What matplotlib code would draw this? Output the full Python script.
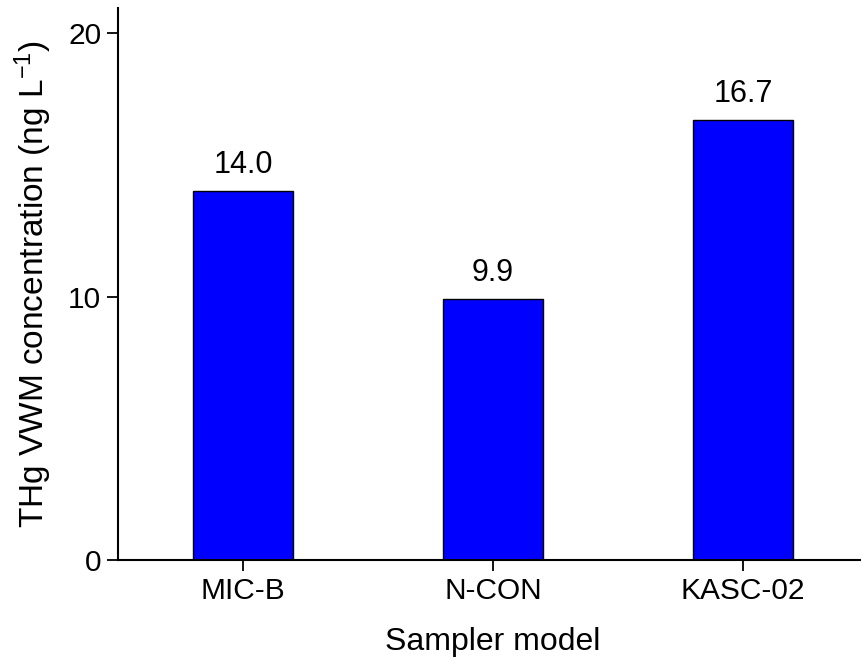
import numpy as np
import matplotlib
matplotlib.use("Agg")
import matplotlib.pyplot as plt

plt.rcParams['font.family'] = ['Liberation Sans', 'DejaVu Sans']
plt.rcParams['mathtext.fontset'] = 'custom'
plt.rcParams['mathtext.rm'] = 'Liberation Sans'
plt.rcParams['mathtext.it'] = 'Liberation Sans:italic'

samplers = ['MIC-B', 'N-CON', 'KASC-02']
thg_vwm = [14.0, 9.9, 16.7]
yticks = [0, 10, 20]

fig = plt.figure(figsize=(8.61, 6.59), dpi=100)
# axes run past the right edge of the figure, like the original
ax = fig.add_axes([118/861, 99/659, 750/861, 552/659])

x = np.arange(len(samplers))
bars = ax.bar(x, thg_vwm, width=0.4, color='#0000ff', edgecolor='black', linewidth=1.0)
for xi, v in zip(x, thg_vwm):
    ax.annotate('%.1f' % v, (xi, v), xytext=(0, 8), textcoords='offset points',
                ha='center', va='bottom', fontsize=22)

ax.set_xlim(-0.5, 2.5)
ax.set_ylim(0, 20.95)
ax.set_xticks(x)
ax.set_xticklabels(samplers, fontsize=21.5)
ax.set_yticks(yticks)
ax.set_yticklabels([str(t) for t in yticks], fontsize=21.5)
ax.tick_params(direction='out', length=8, width=1.3, pad=4)

ax.spines['top'].set_visible(False)
ax.spines['right'].set_visible(False)
ax.spines['left'].set_linewidth(1.5)
ax.spines['bottom'].set_linewidth(1.5)

ax.set_xlabel('Sampler model', fontsize=23, labelpad=16)
ax.set_ylabel(r'THg VWM concentration (ng L$^{-1}$)', fontsize=24, labelpad=10)

fig.savefig('out.png', dpi=100)
